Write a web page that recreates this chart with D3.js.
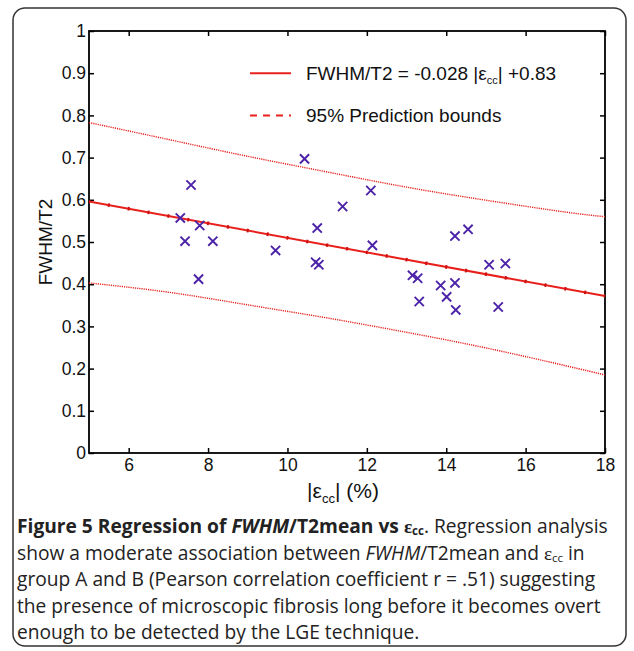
<!DOCTYPE html>
<html>
<head>
<meta charset="utf-8">
<script src="https://cdn.jsdelivr.net/npm/d3@7"></script>
<style>
  body { margin: 0; background: #fff; }
  svg { display: block; }
</style>
</head>
<body>
<script>
// Data
const strainVals = [7.30, 7.42, 7.57, 7.79, 7.76, 8.12, 9.70, 10.43, 10.71, 10.75, 10.79, 11.39, 12.10,
  12.14, 13.15, 13.28, 13.32, 13.86, 14.01, 14.22, 14.22, 14.24, 14.55, 15.08, 15.31, 15.49];
const ratioVals = [0.557, 0.502, 0.635, 0.539, 0.412, 0.502, 0.480, 0.697, 0.452, 0.533, 0.446, 0.584, 0.622,
  0.492, 0.421, 0.414, 0.359, 0.397, 0.370, 0.514, 0.403, 0.339, 0.530, 0.446, 0.346, 0.449];

const fitX = [5, 18];
const fitY = [0.596, 0.372];

const boundX = [5, 7, 9, 11, 13, 15, 17, 18];
const upperY = [0.783, 0.743, 0.703, 0.666, 0.630, 0.599, 0.571, 0.560];
const lowerY = [0.403, 0.381, 0.351, 0.320, 0.286, 0.249, 0.207, 0.185];

const xTicks = [6, 8, 10, 12, 14, 16, 18];
const yTicks = [0, 0.1, 0.2, 0.3, 0.4, 0.5, 0.6, 0.7, 0.8, 0.9, 1];

// Layout
const W = 634, H = 651;
const plot = { left: 89, right: 605, top: 31, bottom: 453 };
const red = "#e8201c";
const purple = "#4b22a8";

const svg = d3.select("body").append("svg")
  .attr("width", W)
  .attr("height", H);

// figure frame
svg.append("rect")
  .attr("x", 13).attr("y", 8)
  .attr("width", 613).attr("height", 638)
  .attr("rx", 12)
  .attr("fill", "none")
  .attr("stroke", "#333")
  .attr("stroke-width", 1.5);

const x = d3.scaleLinear().domain([5, 18]).range([plot.left, plot.right]);
const y = d3.scaleLinear().domain([0, 1]).range([plot.bottom, plot.top]);

const axisFont = "'Liberation Sans', Arial, sans-serif";

// Axes (MATLAB style, ticks inside on all sides)
const gx = svg.append("g")
  .attr("transform", `translate(0,${plot.bottom})`)
  .call(d3.axisBottom(x).tickValues(xTicks).tickSizeInner(-5).tickSizeOuter(0).tickPadding(6));
const gxTop = svg.append("g")
  .attr("transform", `translate(0,${plot.top})`)
  .call(d3.axisTop(x).tickValues(xTicks).tickSizeInner(-5).tickSizeOuter(0).tickFormat(""));
const gy = svg.append("g")
  .attr("transform", `translate(${plot.left},0)`)
  .call(d3.axisLeft(y).tickValues(yTicks).tickSizeInner(-5).tickSizeOuter(0).tickPadding(3)
    .tickFormat(d => d3.format("~g")(d)));
const gyRight = svg.append("g")
  .attr("transform", `translate(${plot.right},0)`)
  .call(d3.axisRight(y).tickValues(yTicks).tickSizeInner(-5).tickSizeOuter(0).tickFormat(""));

[gx, gxTop, gy, gyRight].forEach(g => {
  g.select(".domain").remove();
  g.selectAll(".tick line").attr("stroke", "#000").attr("stroke-width", 1.5);
  g.selectAll("text").attr("font-family", axisFont).attr("font-size", 17.5).attr("fill", "#111");
});

// box
svg.append("rect")
  .attr("x", plot.left).attr("y", plot.top)
  .attr("width", plot.right - plot.left).attr("height", plot.bottom - plot.top)
  .attr("fill", "none")
  .attr("stroke", "#000")
  .attr("stroke-width", 1.8);

// prediction bounds
const boundLine = d3.line().curve(d3.curveNatural)
  .x(d => x(d[0])).y(d => y(d[1]));
[upperY, lowerY].forEach(ys => {
  svg.append("path")
    .datum(boundX.map((v, i) => [v, ys[i]]))
    .attr("d", boundLine)
    .attr("fill", "none")
    .attr("stroke", red)
    .attr("stroke-width", 1.4)
    .attr("stroke-dasharray", "1.2,1");
});

// fitted line
const fitPts = fitX.map((v, i) => [v, fitY[i]]);
const fitLine = d3.line().x(d => x(d[0])).y(d => y(d[1]));
svg.append("path")
  .datum(fitPts)
  .attr("d", fitLine)
  .attr("fill", "none")
  .attr("stroke", red)
  .attr("stroke-width", 2);
// small sample dots along the fit
const dotPath = svg.append("path")
  .datum(fitPts)
  .attr("d", fitLine)
  .attr("fill", "none")
  .attr("stroke", "#d01010")
  .attr("stroke-width", 3.6);
const len = dotPath.node().getTotalLength();
const period = len / 26;
dotPath.attr("stroke-dasharray", `2,${period - 2}`).attr("stroke-dashoffset", 1);

// data points (x markers)
svg.append("g").selectAll("path")
  .data(strainVals.map((v, i) => [v, ratioVals[i]]))
  .join("path")
  .attr("d", d => {
    const cx = x(d[0]), cy = y(d[1]), r = 4.6;
    return `M${cx - r},${cy - r}L${cx + r},${cy + r}M${cx + r},${cy - r}L${cx - r},${cy + r}`;
  })
  .attr("stroke", purple)
  .attr("stroke-width", 1.9)
  .attr("fill", "none");

// legend
const legend = svg.append("g").attr("font-family", axisFont).attr("font-size", 19).attr("fill", "#111");
legend.append("line")
  .attr("x1", 250).attr("x2", 291).attr("y1", y(0.9)).attr("y2", y(0.9))
  .attr("stroke", red).attr("stroke-width", 2);
const lt = legend.append("text").attr("x", 306).attr("y", y(0.9) + 7);
lt.append("tspan").text("FWHM/T2 = -0.028 |ε");
lt.append("tspan").attr("font-size", 11).attr("dy", 4).text("cc");
lt.append("tspan").attr("dy", -4).text("| +0.83");
legend.append("line")
  .attr("x1", 250).attr("x2", 291).attr("y1", y(0.8)).attr("y2", y(0.8))
  .attr("stroke", red).attr("stroke-width", 2)
  .attr("stroke-dasharray", "7,6");
legend.append("text").attr("x", 306).attr("y", y(0.8) + 7).text("95% Prediction bounds");

// axis titles
const xt = svg.append("text")
  .attr("x", (plot.left + plot.right) / 2 - 4)
  .attr("y", 498)
  .attr("text-anchor", "middle")
  .attr("font-family", axisFont)
  .attr("font-size", 21)
  .attr("fill", "#111");
xt.append("tspan").text("|ε");
xt.append("tspan").attr("font-size", 13).attr("dy", 5).text("cc");
xt.append("tspan").attr("dy", -5).text("| (%)");

svg.append("text")
  .attr("transform", `translate(52,${(plot.top + plot.bottom) / 2}) rotate(-90)`)
  .attr("text-anchor", "middle")
  .attr("font-family", axisFont)
  .attr("font-size", 19)
  .attr("fill", "#111")
  .text("FWHM/T2");

// caption
const cap = svg.append("g")
  .attr("font-family", "'Open Sans', 'Noto Sans', sans-serif")
  .attr("font-size", 19.2)
  .attr("fill", "#222");
const capX = 17;
const capY = [533, 559.5, 586, 612.5, 639];

const l1 = cap.append("text").attr("x", capX).attr("y", capY[0]);
l1.append("tspan").attr("font-weight", "bold").text("Figure 5 Regression of ");
l1.append("tspan").attr("font-weight", "bold").attr("font-style", "italic").text("FWHM");
l1.append("tspan").attr("font-weight", "bold").text("/T2mean vs ");
l1.append("tspan").attr("font-weight", "bold").attr("font-family", "'Liberation Serif', serif").text("ε");
l1.append("tspan").attr("font-weight", "bold").attr("font-size", 11.5).attr("dy", 2).text("cc");
l1.append("tspan").attr("dy", -2).text(". Regression analysis");

const l2 = cap.append("text").attr("x", capX).attr("y", capY[1]);
l2.append("tspan").text("show a moderate association between ");
l2.append("tspan").attr("font-style", "italic").text("FWHM");
l2.append("tspan").text("/T2mean and ");
l2.append("tspan").attr("font-family", "'Liberation Serif', serif").text("ε");
l2.append("tspan").attr("font-size", 11.5).attr("dy", 2).text("cc");
l2.append("tspan").attr("dy", -2).text(" in");

cap.append("text").attr("x", capX).attr("y", capY[2])
  .text("group A and B (Pearson correlation coefficient r = .51) suggesting");
cap.append("text").attr("x", capX).attr("y", capY[3])
  .text("the presence of microscopic fibrosis long before it becomes overt");
cap.append("text").attr("x", capX).attr("y", capY[4])
  .text("enough to be detected by the LGE technique.");
</script>
</body>
</html>
